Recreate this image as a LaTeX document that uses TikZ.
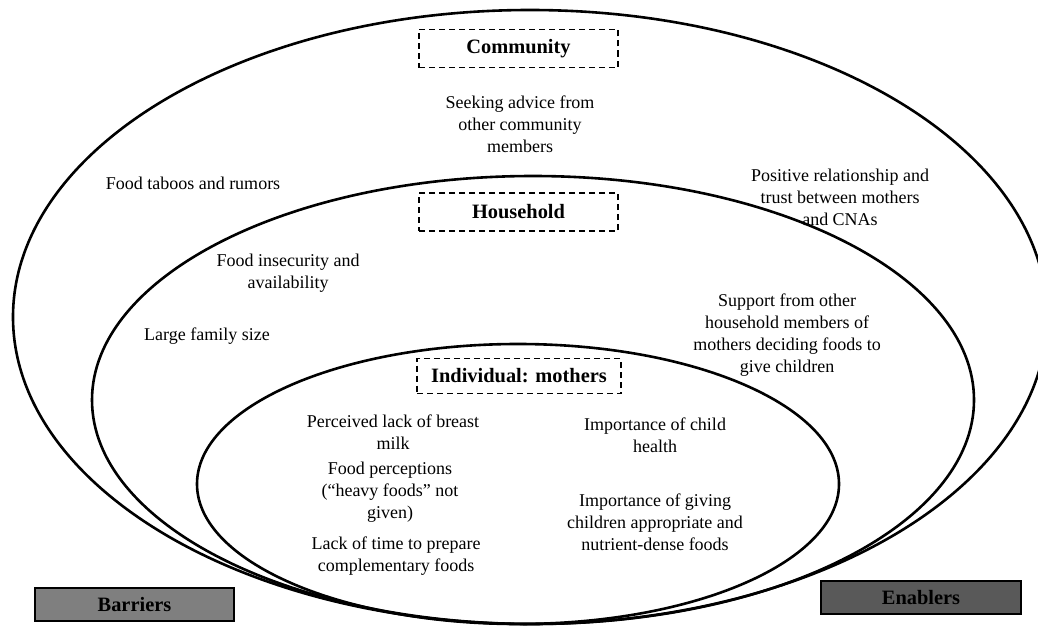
\documentclass[tikz,border=0pt]{standalone}
\usepackage{fontspec}
\setmainfont{Liberation Serif}
\definecolor{barrierfill}{HTML}{7F7F7F}
\definecolor{enablerfill}{HTML}{595959}
\begin{document}
\begin{tikzpicture}[x=1pt,y=-1pt,
  ring/.style={draw=black, line width=2.6pt},
  levelbox/.style={draw=black, dash pattern=on 6pt off 4pt, line width=1.6pt,
    minimum width=199pt, minimum height=38pt, inner sep=0pt,
    font=\fontsize{20.4}{24}\selectfont\bfseries},
  factor/.style={align=center, inner sep=0pt, font=\fontsize{18}{22}\selectfont},
  legendbox/.style={draw=black, line width=1.2pt, minimum width=199pt,
    minimum height=33pt, inner sep=0pt, font=\fontsize{20.4}{24}\selectfont\bfseries}]
\useasboundingbox (0,0) rectangle (1038,626);

% nested spheres of influence
\draw[ring] (530,317) ellipse [x radius=517pt, y radius=307pt];
\draw[ring] (533,400) ellipse [x radius=441pt, y radius=224pt];
\draw[ring] (518,484) ellipse [x radius=321pt, y radius=140pt];

% level labels
\node[levelbox] (community) at (518.5,48.5) {Community};
\node[levelbox] (household) at (518.5,212) {Household};
\node[levelbox, minimum width=204pt, minimum height=35pt] (individual) at (519,376) {Individual: mothers};

% community level
\node[factor] (seek) at (520,124) {Seeking advice from\\other community\\members};
\node[factor] (taboo) at (193,183) {Food taboos and rumors};
\node[factor] (trust) at (840,197) {Positive relationship and\\trust between mothers\\and CNAs};

% household level
\node[factor] (insecurity) at (288,273) {Food insecurity and\\availability};
\node[factor] (family) at (207,336) {Large family size};
\node[factor] (support) at (787,335) {Support from other\\household members of\\mothers deciding foods to\\give children};

% individual level
\node[factor] (breast) at (393,432) {Perceived lack of breast\\milk};
\node[factor] (perceptions) at (390,492) {Food perceptions\\(“heavy foods” not\\given)};
\node[factor] (lacktime) at (396,556) {Lack of time to prepare\\complementary foods};
\node[factor] (health) at (655,435) {Importance of child\\health};
\node[factor] (giving) at (655,522) {Importance of giving\\children appropriate and\\nutrient-dense foods};

% legend
\node[legendbox, fill=barrierfill] (barriers) at (134.5,604.5) {Barriers};
\node[legendbox, fill=enablerfill, minimum width=200pt] (enablers) at (921,597.5) {Enablers};
\end{tikzpicture}
\end{document}
